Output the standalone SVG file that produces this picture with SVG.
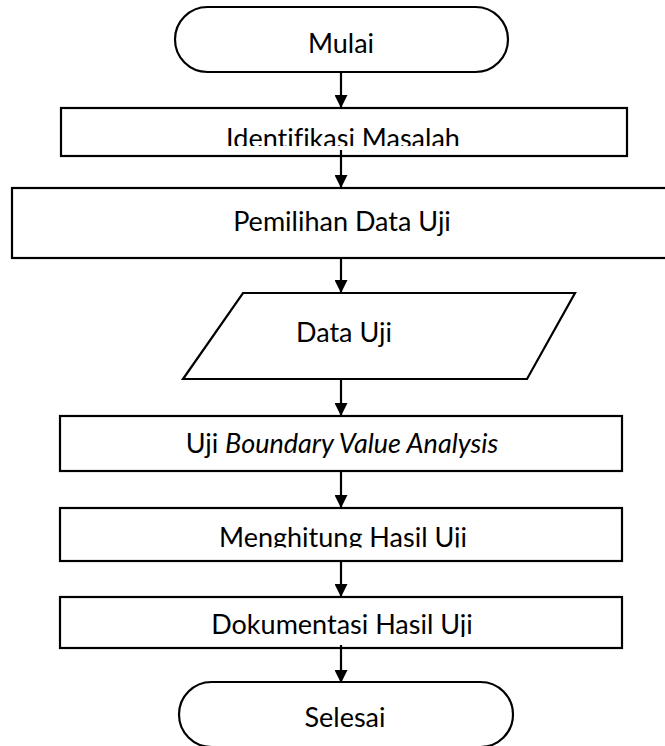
<svg xmlns="http://www.w3.org/2000/svg" width="665" height="746" viewBox="0 0 665 746">
  <style>
    .shape { fill: #ffffff; stroke: #000000; stroke-width: 2.2; }
    .label { font-family: Lato, "Liberation Sans", sans-serif; font-size: 27px; fill: #000000; text-anchor: middle; font-variant-ligatures: none; }
    .flow { stroke: #000000; stroke-width: 2.2; fill: none; marker-end: url(#arrow); }
  </style>
  <defs>
    <marker id="arrow" markerUnits="userSpaceOnUse" markerWidth="14" markerHeight="13" refX="14" refY="7" orient="auto" viewBox="0 0 14 14">
      <path d="M0,0 L14,7 L0,14 Z" fill="#000000"/>
    </marker>
    <!-- text areas of the shapes clip their labels -->
    <clipPath id="clip-identifikasi"><rect x="61" y="108" width="566" height="38"/></clipPath>
    <clipPath id="clip-menghitung"><rect x="60" y="508" width="562" height="39.5"/></clipPath>
    <clipPath id="clip-dokumentasi"><rect x="60" y="597" width="562" height="40"/></clipPath>
  </defs>

  <g id="mulai">
    <rect class="shape" x="175" y="7" width="333" height="65" rx="32.5" ry="32.5"/>
    <text class="label" x="341" y="53">Mulai</text>
  </g>

  <g id="identifikasi-masalah">
    <rect class="shape" x="61" y="108" width="566" height="48"/>
    <text class="label" x="343" y="148" clip-path="url(#clip-identifikasi)">Identifikasi Masalah</text>
  </g>

  <g id="pemilihan-data-uji">
    <rect class="shape" x="12" y="188" width="660" height="70"/>
    <text class="label" x="342" y="231">Pemilihan Data Uji</text>
  </g>

  <g id="data-uji">
    <polygon class="shape" points="243,293 575,293 527,379 183,379"/>
    <text class="label" x="344" y="342">Data Uji</text>
  </g>

  <g id="uji-bva">
    <rect class="shape" x="60" y="416" width="562" height="55"/>
    <text class="label" x="342" y="453">Uji <tspan font-style="italic">Boundary Value Analysis</tspan></text>
  </g>

  <g id="menghitung-hasil-uji">
    <rect class="shape" x="60" y="508" width="562" height="53"/>
    <text class="label" x="343" y="547" clip-path="url(#clip-menghitung)">Menghitung Hasil Uji</text>
  </g>

  <g id="dokumentasi-hasil-uji">
    <rect class="shape" x="60" y="597" width="562" height="51"/>
    <text class="label" x="342" y="634" clip-path="url(#clip-dokumentasi)">Dokumentasi Hasil Uji</text>
  </g>

  <g id="selesai">
    <rect class="shape" x="179" y="682" width="334" height="65" rx="32.5" ry="32.5"/>
    <text class="label" x="345" y="727">Selesai</text>
  </g>

  <g id="connectors">
    <line class="flow" x1="341" y1="72" x2="341" y2="108"/>
    <line class="flow" x1="341" y1="150" x2="341" y2="188"/>
    <line class="flow" x1="341" y1="258" x2="341" y2="293"/>
    <line class="flow" x1="341" y1="379" x2="341" y2="416"/>
    <line class="flow" x1="341" y1="471" x2="341" y2="508"/>
    <line class="flow" x1="341" y1="561" x2="341" y2="597"/>
    <line class="flow" x1="341" y1="645" x2="341" y2="683"/>
  </g>
</svg>
